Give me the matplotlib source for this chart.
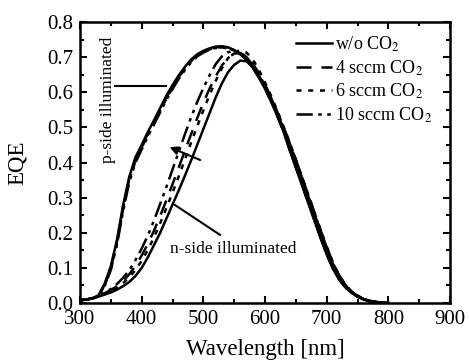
import matplotlib
matplotlib.use("Agg")
import matplotlib.pyplot as plt
from matplotlib.ticker import MultipleLocator

plt.rcParams['font.family'] = 'serif'
plt.rcParams['font.serif'] = ['Liberation Serif', 'DejaVu Serif']
plt.rcParams['mathtext.fontset'] = 'stix'

# ---- data ----
wavelength = [300, 310, 320, 330, 340, 350, 360, 370, 380, 390, 400, 410, 420, 430, 440,
              450, 460, 470, 480, 490, 500, 510, 520, 530, 540, 550, 560, 570, 580, 590,
              600, 610, 620, 630, 640, 650, 660, 670, 680, 690, 700, 710, 720, 730, 740,
              750, 760, 770, 780, 790, 800]

labels = ['w/o CO$_2$', '4 sccm CO$_2$', '6 sccm CO$_2$', '10 sccm CO$_2$']

# p-side illuminated
p_wo = [0.008, 0.010, 0.013, 0.022, 0.055, 0.105, 0.180, 0.280, 0.360, 0.415, 0.450, 0.487, 0.520, 0.555, 0.590,
        0.620, 0.648, 0.672, 0.693, 0.708, 0.718, 0.725, 0.730, 0.731, 0.728, 0.720, 0.708, 0.692, 0.670, 0.642,
        0.610, 0.573, 0.532, 0.488, 0.435, 0.385, 0.335, 0.285, 0.235, 0.185, 0.138, 0.098, 0.067, 0.045, 0.029,
        0.018, 0.010, 0.005, 0.002, 0.001, 0.000]
p_4 = [0.008, 0.010, 0.013, 0.021, 0.052, 0.100, 0.175, 0.272, 0.354, 0.409, 0.445, 0.482, 0.515, 0.550, 0.585,
       0.615, 0.643, 0.668, 0.689, 0.705, 0.716, 0.723, 0.728, 0.729, 0.727, 0.720, 0.709, 0.693, 0.671, 0.643,
       0.611, 0.574, 0.533, 0.489, 0.437, 0.387, 0.337, 0.287, 0.237, 0.187, 0.140, 0.100, 0.068, 0.046, 0.030,
       0.018, 0.010, 0.005, 0.002, 0.001, 0.000]
p_6 = [0.008, 0.010, 0.013, 0.021, 0.050, 0.097, 0.171, 0.268, 0.350, 0.405, 0.442, 0.479, 0.512, 0.547, 0.582,
       0.612, 0.641, 0.666, 0.688, 0.704, 0.715, 0.722, 0.727, 0.728, 0.726, 0.720, 0.709, 0.694, 0.672, 0.644,
       0.612, 0.575, 0.534, 0.490, 0.438, 0.388, 0.338, 0.288, 0.238, 0.188, 0.140, 0.100, 0.069, 0.046, 0.030,
       0.019, 0.011, 0.005, 0.002, 0.001, 0.000]
p_10 = [0.008, 0.010, 0.013, 0.020, 0.048, 0.094, 0.167, 0.262, 0.345, 0.400, 0.437, 0.474, 0.508, 0.543, 0.578,
        0.609, 0.638, 0.663, 0.685, 0.702, 0.713, 0.721, 0.726, 0.727, 0.725, 0.719, 0.709, 0.694, 0.673, 0.645,
        0.613, 0.576, 0.535, 0.491, 0.439, 0.389, 0.339, 0.289, 0.239, 0.189, 0.141, 0.101, 0.069, 0.046, 0.030,
        0.019, 0.011, 0.005, 0.002, 0.001, 0.000]

# n-side illuminated
n_wo = [0.008, 0.010, 0.013, 0.018, 0.024, 0.030, 0.038, 0.048, 0.060, 0.077, 0.100, 0.130, 0.165, 0.200, 0.240,
        0.280, 0.320, 0.362, 0.405, 0.450, 0.495, 0.540, 0.585, 0.625, 0.657, 0.678, 0.690, 0.688, 0.672, 0.648,
        0.617, 0.580, 0.540, 0.497, 0.452, 0.404, 0.354, 0.304, 0.254, 0.204, 0.156, 0.112, 0.077, 0.051, 0.032,
        0.020, 0.011, 0.006, 0.003, 0.001, 0.000]
n_4 = [0.008, 0.010, 0.013, 0.019, 0.028, 0.037, 0.048, 0.063, 0.082, 0.106, 0.135, 0.168, 0.206, 0.248, 0.292,
       0.338, 0.385, 0.433, 0.480, 0.526, 0.570, 0.610, 0.645, 0.676, 0.698, 0.710, 0.712, 0.702, 0.682, 0.655,
       0.622, 0.585, 0.544, 0.501, 0.456, 0.408, 0.358, 0.308, 0.258, 0.208, 0.160, 0.115, 0.079, 0.052, 0.033,
       0.020, 0.011, 0.006, 0.003, 0.001, 0.000]
n_6 = [0.008, 0.010, 0.013, 0.019, 0.026, 0.034, 0.044, 0.057, 0.073, 0.094, 0.120, 0.151, 0.187, 0.227, 0.270,
       0.314, 0.360, 0.408, 0.456, 0.503, 0.548, 0.592, 0.632, 0.668, 0.697, 0.714, 0.720, 0.713, 0.694, 0.664,
       0.628, 0.589, 0.547, 0.503, 0.457, 0.409, 0.359, 0.309, 0.259, 0.209, 0.160, 0.116, 0.080, 0.053, 0.034,
       0.021, 0.012, 0.006, 0.003, 0.001, 0.000]
n_10 = [0.008, 0.010, 0.013, 0.020, 0.030, 0.040, 0.054, 0.072, 0.094, 0.122, 0.155, 0.192, 0.235, 0.282, 0.330,
        0.380, 0.430, 0.480, 0.528, 0.572, 0.612, 0.648, 0.680, 0.702, 0.714, 0.718, 0.713, 0.700, 0.678, 0.651,
        0.620, 0.583, 0.543, 0.500, 0.455, 0.407, 0.357, 0.307, 0.257, 0.207, 0.158, 0.114, 0.078, 0.052, 0.033,
        0.020, 0.011, 0.006, 0.003, 0.001, 0.000]

x_ticks = [300, 400, 500, 600, 700, 800, 900]
y_ticks = [0.0, 0.1, 0.2, 0.3, 0.4, 0.5, 0.6, 0.7, 0.8]

# ---- styles ----
lw = 1.8
styles = ['-', (0, (6.0, 4.0)), (0, (2.0, 2.7)), (0, (6.5, 2.2, 1.4, 2.2, 1.4, 2.2))]

fig = plt.figure(figsize=(4.69, 3.6), dpi=100)
ax = fig.add_axes([80/469, 1 - 303/360, 370/469, 281/360])

p_sets = [p_wo, p_4, p_6, p_10]
n_sets = [n_wo, n_4, n_6, n_10]
for lab, ls, p, n in zip(labels, styles, p_sets, n_sets):
    ax.plot(wavelength, p, color='black', lw=lw, linestyle=ls, label=lab)
    ax.plot(wavelength, n, color='black', lw=lw, linestyle=ls)

ax.set_xlim(300, 900)
ax.set_ylim(0.0, 0.8)
ax.set_xticks(x_ticks)
ax.set_yticks(y_ticks)
ax.set_xticklabels([str(v) for v in x_ticks])
ax.set_yticklabels([f'{v:.1f}' for v in y_ticks])
ax.xaxis.set_minor_locator(MultipleLocator(50))
ax.yaxis.set_minor_locator(MultipleLocator(0.05))
ax.tick_params(which='both', direction='in', top=True, right=True, width=1.5)
ax.tick_params(which='major', length=5, labelsize=15, pad=5)
ax.tick_params(which='minor', length=3)
for s in ax.spines.values():
    s.set_linewidth(1.8)

ax.set_xlabel('Wavelength [nm]', fontsize=16.5, labelpad=7)
ax.set_ylabel('EQE', fontsize=16.5, labelpad=14)

# annotations
ax.text(345.4, 0.578, 'p-side illuminated', rotation=90, ha='center', va='center', fontsize=12.5)
ax.plot([356, 439], [0.618, 0.618], color='black', lw=1.5)
ax.annotate('', xy=(441, 0.447), xytext=(499, 0.404),
            arrowprops=dict(arrowstyle='-|>', color='black', lw=1.5, mutation_scale=12))
ax.plot([454, 527], [0.279, 0.194], color='black', lw=1.5)
ax.text(446, 0.154, 'n-side illuminated', ha='left', va='center', fontsize=12.5)

leg = ax.legend(loc='upper left', bbox_to_anchor=(0.583, 0.955), frameon=False, fontsize=13,
                handlelength=2.0, handletextpad=0.2, labelspacing=0.23, borderpad=0.0, borderaxespad=0.0)

fig.savefig('out.png', dpi=100)
